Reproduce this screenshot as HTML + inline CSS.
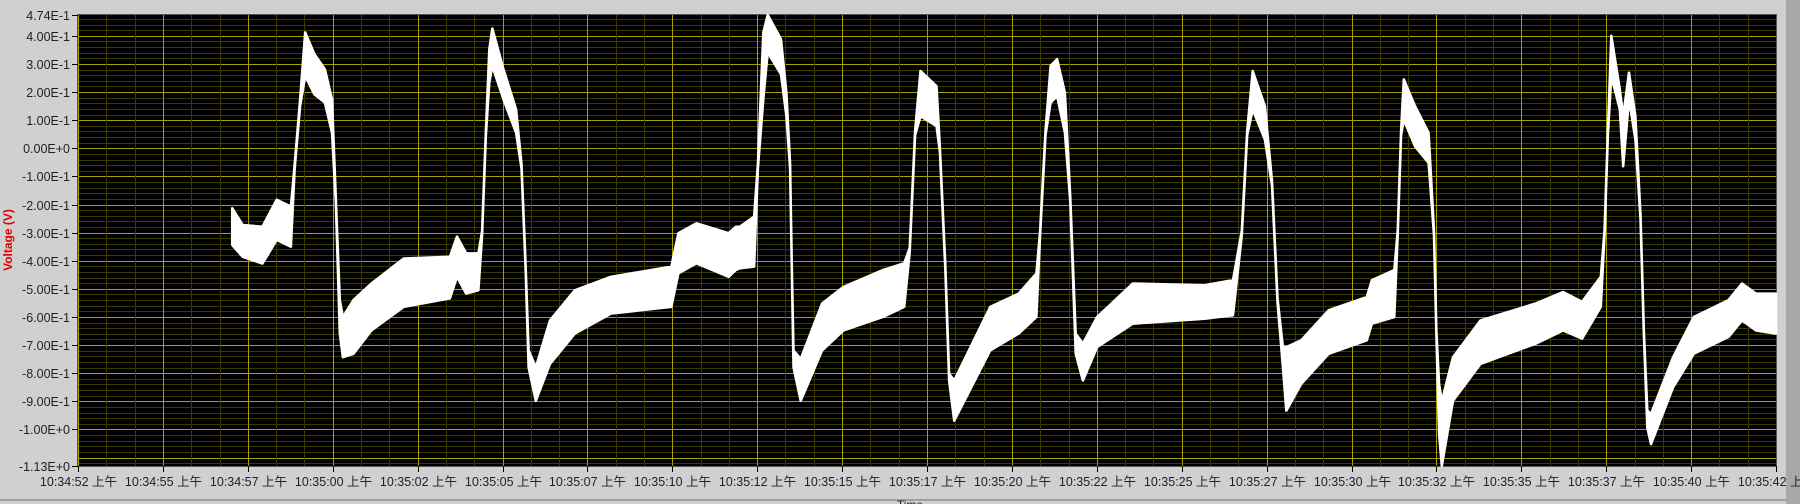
<!DOCTYPE html>
<html><head><meta charset="utf-8"><style>
html,body{margin:0;padding:0;width:1800px;height:504px;overflow:hidden;background:#d0d0d0;}
svg{display:block;font-family:"Liberation Sans","Noto Sans CJK SC",sans-serif;}
</style></head><body>
<svg id="chart" width="1800" height="504">
<rect x="1786" y="0" width="14" height="504" fill="#a8a8a8"/>
<rect x="0" y="499" width="1786" height="2" fill="#a0a0a0"/>
<rect x="78" y="15" width="1698" height="451" fill="#000"/>
<g id="grid"></g>
<g id="series"></g>
<g id="yaxis"></g>
<g id="xaxis"></g>
<text x="12" y="240" transform="rotate(-90 12 240)" text-anchor="middle" font-size="12" font-weight="bold" fill="#e00000">Voltage (V)</text>
<text x="910" y="509" text-anchor="middle" font-size="12" fill="#222">Time</text>
</svg>
<script>
const tickLabelsX = ["10:34:52","10:34:55","10:34:57","10:35:00","10:35:02","10:35:05","10:35:07","10:35:10","10:35:12","10:35:15","10:35:17","10:35:20","10:35:22","10:35:25","10:35:27","10:35:30","10:35:32","10:35:35","10:35:37","10:35:40","10:35:42"];
const tickValuesY = [0.474,0.4,0.3,0.2,0.1,0,-0.1,-0.2,-0.3,-0.4,-0.5,-0.6,-0.7,-0.8,-0.9,-1.0,-1.13];
const tickLabelsY = ["4.74E-1","4.00E-1","3.00E-1","2.00E-1","1.00E-1","0.00E+0","-1.00E-1","-2.00E-1","-3.00E-1","-4.00E-1","-5.00E-1","-6.00E-1","-7.00E-1","-8.00E-1","-9.00E-1","-1.00E+0","-1.13E+0"];
const times = [4.54,4.85,5.43,5.85,6.27,6.38,6.54,6.69,6.96,7.27,7.48,7.59,7.71,7.80,8.11,8.64,9.59,10.95,11.16,11.43,11.79,11.90,12.01,12.11,12.20,12.53,12.90,13.06,13.18,13.27,13.48,13.90,14.63,15.69,17.47,17.68,18.21,19.16,19.37,19.49,19.91,20.02,20.18,20.31,20.70,20.86,20.97,21.02,21.07,21.28,21.91,22.54,23.70,24.33,24.49,24.65,24.81,25.28,25.38,25.54,25.65,25.80,26.86,27.70,28.22,28.33,28.49,28.64,28.83,29.06,29.22,29.38,29.59,30.01,31.06,33.17,34.01,34.27,34.43,34.59,34.95,35.16,35.32,35.48,35.58,36.02,36.83,37.95,38.10,38.76,38.86,38.96,39.04,39.37,39.77,39.93,40.00,40.08,40.16,40.49,41.30,42.92,43.73,44.29,44.84,44.95,45.05,45.15,45.40,45.50,45.67,45.86,46.01,46.11,46.21,46.32,46.97,47.58,48.60,49.00,49.41,50.0];
const upper = [-0.213,-0.273,-0.279,-0.183,-0.207,-0.056,0.174,0.412,0.335,0.281,0.174,-0.175,-0.540,-0.600,-0.540,-0.481,-0.392,-0.386,-0.314,-0.374,-0.374,-0.294,0.063,0.352,0.426,0.281,0.138,-0.056,-0.413,-0.719,-0.779,-0.612,-0.505,-0.457,-0.421,-0.302,-0.267,-0.302,-0.279,-0.279,-0.243,-0.056,0.412,0.474,0.388,0.198,-0.056,-0.413,-0.719,-0.749,-0.552,-0.493,-0.433,-0.409,-0.354,0.063,0.275,0.221,0.003,-0.413,-0.802,-0.826,-0.564,-0.517,-0.445,-0.294,0.063,0.293,0.317,0.198,-0.175,-0.659,-0.695,-0.600,-0.481,-0.487,-0.469,-0.294,0.063,0.275,0.150,-0.116,-0.532,-0.707,-0.707,-0.683,-0.576,-0.529,-0.469,-0.433,-0.294,0.063,0.245,0.150,0.055,-0.294,-0.651,-0.838,-0.900,-0.743,-0.612,-0.552,-0.511,-0.546,-0.457,-0.294,0.063,0.400,0.210,0.114,0.269,0.114,-0.235,-0.651,-0.933,-0.945,-0.743,-0.600,-0.540,-0.481,-0.517,-0.517];
const lower = [-0.344,-0.386,-0.410,-0.326,-0.350,-0.072,0.150,0.257,0.192,0.162,0.055,-0.191,-0.659,-0.743,-0.731,-0.648,-0.564,-0.534,-0.457,-0.517,-0.505,-0.310,0.047,0.233,0.293,0.174,0.055,-0.072,-0.429,-0.779,-0.898,-0.767,-0.659,-0.588,-0.564,-0.445,-0.409,-0.457,-0.433,-0.427,-0.421,-0.072,0.174,0.341,0.263,0.114,-0.072,-0.429,-0.779,-0.898,-0.719,-0.648,-0.600,-0.564,-0.370,0.047,0.114,0.079,-0.013,-0.429,-0.826,-0.969,-0.719,-0.659,-0.600,-0.310,0.047,0.162,0.186,0.055,-0.191,-0.731,-0.826,-0.707,-0.624,-0.606,-0.594,-0.310,0.047,0.138,0.031,-0.132,-0.548,-0.779,-0.933,-0.838,-0.731,-0.683,-0.624,-0.600,-0.310,0.047,0.102,0.007,-0.052,-0.310,-0.667,-1.017,-1.130,-0.898,-0.767,-0.695,-0.648,-0.677,-0.564,-0.310,0.047,0.257,0.138,-0.064,0.174,0.031,-0.251,-0.667,-0.993,-1.052,-0.850,-0.731,-0.671,-0.612,-0.648,-0.659];

const NS="http://www.w3.org/2000/svg";
const L=78,R=1776,T=15,B=466, T0=0,T1=50, V0=-1.13,V1=0.474;
const xs=t=>L+(t-T0)/(T1-T0)*(R-L);
const ys=v=>T+(V1-v)/(V1-V0)*(B-T);
function mk(tag,attrs,parent){const e=document.createElementNS(NS,tag);for(const k in attrs)e.setAttribute(k,attrs[k]);parent.appendChild(e);return e;}
const grid=document.getElementById('grid');
for(let i=-56;i<=23;i++){const v=i*0.02;if(v<V0||v>V1)continue;const y=Math.round(ys(v))+0.5;
 const major=(i%5===0);
 const ln=mk('line',{x1:L,x2:R,y1:y,y2:y,stroke:major?'#a89f00':'#3c3900','stroke-width':1},grid);
 
 }
for(let i=0;i<=60;i++){const t=i*2.5/3;const x=Math.round(xs(t))+0.5;const major=(i%3===0);
 const ln=mk('line',{x1:x,x2:x,y1:T,y2:B,stroke:major?'#a89f00':'#3c3900','stroke-width':1},grid);
 
 }
mk('rect',{x:L-0.5,y:T-0.5,width:R-L+1,height:B-T+1,fill:'none',stroke:'#555','stroke-width':1},grid);
let pts=[];for(let i=0;i<times.length;i++)pts.push(xs(times[i]).toFixed(1)+','+ys(upper[i]).toFixed(1));
for(let i=times.length-1;i>=0;i--)pts.push(xs(times[i]).toFixed(1)+','+ys(lower[i]).toFixed(1));
const poly=mk('polygon',{points:pts.join(' '),fill:'#fff',stroke:'#fff','stroke-width':2.5,'stroke-linejoin':'round'},document.getElementById('series'));


const ya=document.getElementById('yaxis');
tickValuesY.forEach((v,i)=>{const y=Math.round(ys(v));
 const tk=mk('line',{x1:72,x2:L,y1:y+0.5,y2:y+0.5,stroke:'#000','stroke-width':1},ya);
 
 
 const tx=mk('text',{x:70,y:y+5,'text-anchor':'end','font-size':12.5,fill:'#222'},ya);tx.textContent=tickLabelsY[i];
 
 });
const xa=document.getElementById('xaxis');
tickLabelsX.forEach((s,i)=>{const x=Math.round(xs(i*2.5))+0.5;
 const tk=mk('line',{x1:x,x2:x,y1:B,y2:B+6,stroke:'#000','stroke-width':1},xa);
 
 
 const tx=mk('text',{x:x,y:486,'text-anchor':'middle','font-size':12.5,fill:'#222'},xa);tx.textContent=s+' 上午';
 
 });
</script>
</body></html>
